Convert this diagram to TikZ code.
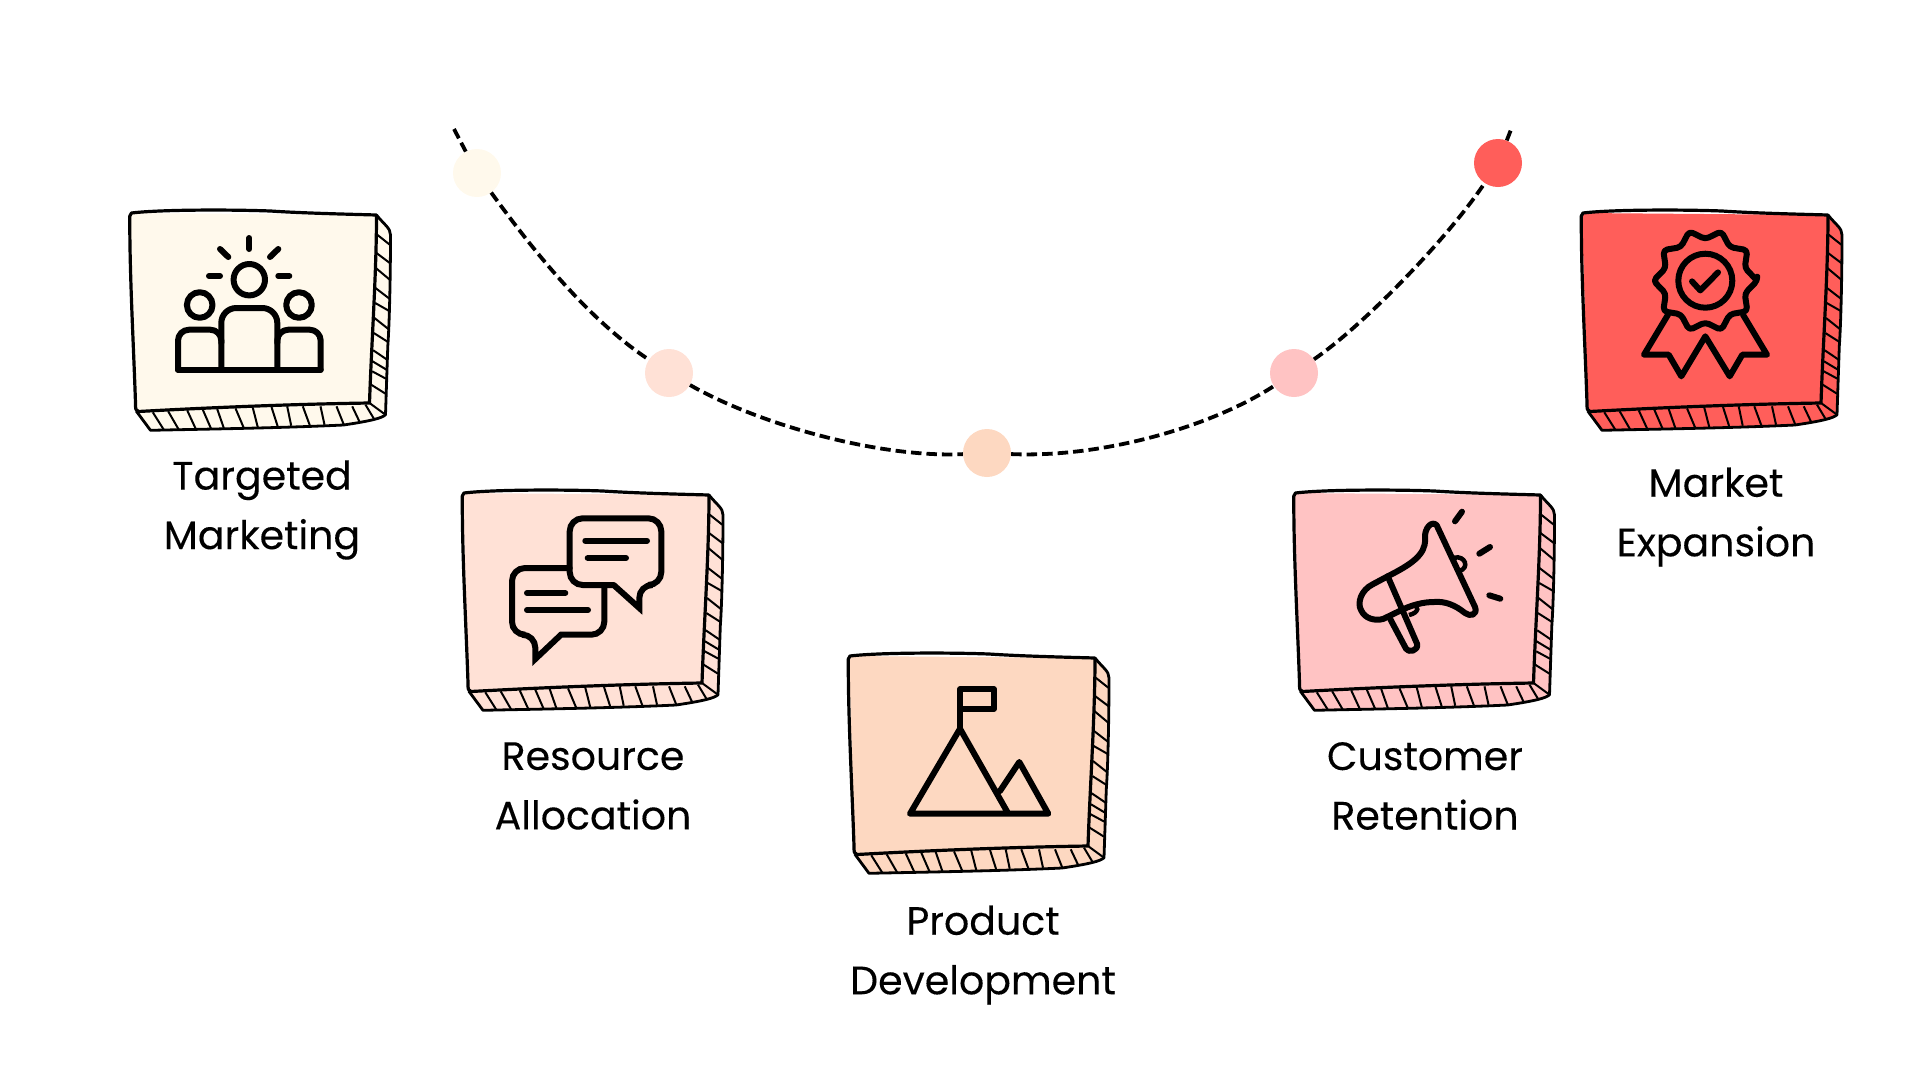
\documentclass[tikz,border=0pt]{standalone}
\usepackage{fontspec}
\setmainfont[FakeBold=0.2]{Poppins}

\definecolor{creamfill}{HTML}{FFF9EC}
\definecolor{blushfill}{HTML}{FFE1D6}
\definecolor{peachfill}{HTML}{FDD8C1}
\definecolor{pinkfill}{HTML}{FFC3C3}
\definecolor{redfill}{HTML}{FF5E5A}

\tikzset{
  dot/.style={circle, minimum size=48pt, inner sep=0pt},
  trail/.style={line width=3.8pt, dash pattern=on 10.5pt off 5pt},
  label/.style={font=\fontsize{39.5}{59.5}\selectfont, align=center},
  iconline/.style={line width=6pt, line cap=round, line join=round},
  boxbody/.pic={
    \fill[#1] (0,0) -- (246,2) -- (260,20) -- (259.3,67) -- (257.3,133) -- (255,201.7)
      -- (250,205) -- (213,212) -- (20,217.3) -- (5.7,198) -- cycle;
    \draw[line width=2.8pt, line join=round] (246,2) .. controls (254,12) and (260,15) .. (260,22)
      .. controls (260,60) and (259,110) .. (257.3,133) -- (255,201.7)
      .. controls (252,205) and (240,208) .. (213,212)
      .. controls (150,215) and (80,216) .. (20,217.3) -- (5.7,198);
    \draw[line width=3.2pt, line join=round] (1,0) .. controls (30,-3.5) and (100,-3.5) .. (140,-2)
      .. controls (170,0) and (210,1) .. (246,2)
      .. controls (246,60) and (241,130) .. (239,190)
      .. controls (170,191) and (90,194) .. (8,198.5)
      .. controls (5,198) and (5,196) .. (5,190)
      .. controls (3,130) and (-1,60) .. (-0.7,3) -- cycle;
    \draw[line width=2pt] (239,190) -- (255,201.7);
    \foreach \xa/\ya/\xb/\yb in {246.7/21.7/259.3/31.7, 246/40/259.3/50, 245.3/55/259.3/66.7,
      245/75/259.3/86, 244.7/90/259.3/98.3, 244/105/258.7/116.7, 243.3/120/258/129.3,
      242.7/137.3/256.7/146.7, 242/148.3/256/156.7, 241.7/158.3/256/166,
      240.7/171.7/255/180.7, 22.3/199.3/33.3/216.7, 37.7/198.3/48.3/216.7,
      56.7/197.3/65.3/216, 72.3/196.7/80.7/216, 86.7/196/93.3/215, 105/195.3/113.3/215,
      122.3/194.7/127.3/214.3, 141/194/147.3/213.7, 156.7/193.3/160.7/212.7,
      172.3/193.3/179.3/212.3, 190/193.3/194/211.7, 206/193.3/213.3/211.7,
      221.7/193.3/229.3/209.3, 235/191.7/244/206.7}
      \draw[line width=2pt] (\xa,\ya) -- (\xb,\yb);
  },
  peopleicon/.pic={
    \draw[iconline] (119.3,66.7) circle (15.7pt);
    \draw[iconline] (69.7,92) circle (12.8pt);
    \draw[iconline] (169,92) circle (12.8pt);
    \draw[iconline] (119.3,25) -- (119.3,36);
    \draw[iconline] (90,36) -- (98.3,44);
    \draw[iconline] (148.3,36) -- (140,44);
    \draw[iconline] (79,63) -- (90,63);
    \draw[iconline] (148.3,63) -- (159.3,63);
    \draw[iconline, rounded corners=15pt] (91.3,156.7) -- (91.3,95) -- (147.3,95) -- (147.3,156.7);
    \draw[iconline] (48,156.7) -- (190.7,156.7);
    \draw[iconline, rounded corners=11pt] (48,156.7) -- (48,116.7) -- (91.3,116.7) -- (91.3,130);
    \draw[iconline, rounded corners=11pt] (190.7,156.7) -- (190.7,116.7) -- (147.3,116.7) -- (147.3,130);
  },
  speechicon/.pic={
    \draw[iconline, line join=miter, rounded corners=13pt] (150.7,92) -- (106.7,92) -- (106.7,25.3) -- (198.3,25.3)
      -- (198.3,92) -- (176.3,92) [sharp corners] -- (176.3,115) -- (150.7,92);
    \draw[iconline, line join=miter, rounded corners=13pt] (106.7,75) -- (49,75) -- (49,141.7) -- (72.3,141.7)
      [sharp corners] -- (72.3,166) -- (98,141.7) [rounded corners=13pt] -- (141.3,141.7) -- (141.3,92);
    \draw[iconline] (122.3,47.7) -- (184,47.7);
    \draw[iconline] (124.7,65) -- (163,65);
    \draw[iconline] (64,100) -- (102.3,100);
    \draw[iconline] (64,117) -- (125,117);
  },
  mountainicon/.pic={
    \draw[iconline] (111,72.7) -- (111,33.3) -- (145,33.3) -- (145,52.7) -- (111,52.7);
    \draw[iconline] (159.3,157.7) -- (111,72.7) -- (61,157.7) -- (199.3,157.7) -- (170.3,106) -- (151,135);
  },
  hornicon/.pic={
    \draw[iconline] (92.7,83.3) .. controls (115,72) and (131,62) .. (130,46)
      .. controls (129,35) and (137,27) .. (141.7,32.3) -- (180,114)
      .. controls (183,122) and (175,124) .. (170,120)
      .. controls (160,112) and (150,108) .. (139,109)
      .. controls (128,109) and (118,112) .. (109.3,115.7) -- (88,126)
      .. controls (80,128) and (70,126) .. (66,117)
      .. controls (62,110) and (66,97) .. (77.7,91.3) -- cycle;
    \draw[iconline] (92.7,83.3) -- (122,150.7) .. controls (124,158) and (113,160) .. (111,155.7) -- (94.7,125);
    \draw[line width=4.5pt] (159.3,64.7) .. controls (170,62) and (175,75) .. (164.3,78);
    \draw[line width=4.5pt] (117,112) .. controls (125,112) and (124,120) .. (114,122);
    \draw[iconline] (160,28.3) -- (167,18.7);
    \draw[iconline] (184.3,60.7) -- (195,54);
    \draw[iconline] (194.3,102.3) -- (205.3,105.7);
  },
  ribbonicon/.pic={
    \begin{scope}[shift={(123.3,67.7)}]
      \draw[iconline, rounded corners=4pt] (0:52) \foreach \a in {0,36,...,324} {-- (\a+18:41.5) -- (\a+36:52)} -- cycle;
      \draw[iconline] (0,0) circle (27pt);
      \draw[iconline] (-13.3,0.7) -- (-5,9.7) -- (12.7,-8.3);
    \end{scope}
    \draw[iconline] (86,101.7) -- (62,141.7) -- (86.7,141.7) -- (99.3,163.3) -- (123.3,123.3)
      -- (147.7,163.3) -- (160.3,141.7) -- (185,141.7) -- (161,101.7);
  }
}

\begin{document}
\begin{tikzpicture}[x=1pt, y=-1pt]
\useasboundingbox (0,0) rectangle (1920,1080);

\coordinate (trailstart) at (454,129);
\coordinate (trailend) at (1512,127);

\node[dot, fill=creamfill] (dotcream) at (477,173) {};
\node[dot, fill=blushfill] (dotblush) at (669,373) {};
\node[dot, fill=peachfill] (dotpeach) at (987,453) {};
\node[dot, fill=pinkfill] (dotpink) at (1294,373) {};
\node[dot, fill=redfill] (dotred) at (1498,163) {};

\draw[trail] (trailstart) -- (dotcream);
\draw[trail] (dotcream) .. controls (530,246) and (586,318) .. (dotblush);
\draw[trail] (dotblush) .. controls (760,425) and (880,458) .. (dotpeach);
\draw[trail] (dotpeach) .. controls (1100,458) and (1209,428) .. (dotpink);
\draw[trail] (dotpink) .. controls (1364,325) and (1448,238) .. (dotred);
\draw[trail] (dotred) -- (trailend);

\pic at (130.5,213) {boxbody=creamfill};
\pic at (130,213) {peopleicon};
\pic at (463,493) {boxbody=blushfill};
\pic at (463,493) {speechicon};
\pic at (849,656) {boxbody=peachfill};
\pic at (849,656) {mountainicon};
\pic at (1294.5,493) {boxbody=pinkfill};
\pic at (1295,493) {hornicon};
\pic at (1582,213) {boxbody=redfill};
\pic at (1582,213) {ribbonicon};

\node[label] (targeted) at (262,510) {Targeted\\Marketing};
\node[label] (resource) at (593,786) {Resource\\Allocation};
\node[label] (product) at (983,955) {Product\\Development};
\node[label] (customer) at (1425,786) {Customer\\Retention};
\node[label] (market) at (1716,517) {Market\\Expansion};

\end{tikzpicture}
\end{document}
